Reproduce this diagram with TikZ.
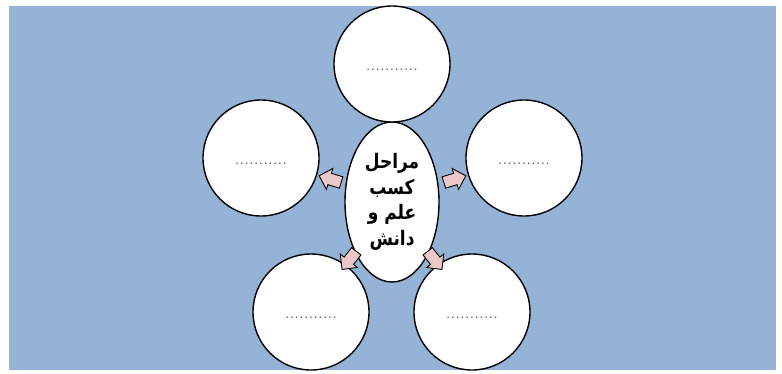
\documentclass[tikz,border=0pt]{standalone}
\usepackage{fontspec}
\usepackage{xcolor}
\usepackage{tikz}
\usetikzlibrary{shapes.geometric,shapes.arrows}
\TeXXeTstate=1
\newfontfamily\farsi[Script=Arabic,FakeStretch=0.85]{DejaVu Sans}
\definecolor{azulfundo}{RGB}{149,179,215}
\definecolor{rosaclaro}{RGB}{236,200,202}
\newcommand{\pontos}{\rule{0pt}{13pt}...........}
\tikzset{
  circulo/.style={circle,draw=black,line width=1.4pt,fill=white,minimum size=116pt,
    inner sep=0pt,font=\fontsize{19}{22}\selectfont,text=black!70},
  centro/.style={ellipse,draw=black,line width=1.4pt,fill=white,minimum width=94pt,
    minimum height=160pt,inner sep=0pt,align=center,
    font=\farsi\bfseries\fontsize{20}{25.5}\selectfont},
  seta/.style={single arrow,draw=black,line width=0.9pt,fill=rosaclaro,
    minimum height=23pt,inner sep=5.5pt,single arrow head extend=5pt}
}
\begin{document}
\begin{tikzpicture}[x=1pt,y=-1pt]
\useasboundingbox (0,0) rectangle (782,373);
\fill[azulfundo] (9,6) rectangle (776,370);
% o centro
\node[centro] (meio) at (392,202)
  {\beginR مراحل\endR\\ \beginR کسب\endR\\ \beginR علم و\endR\\ \beginR دانش\endR};
% os circulos
\node[circulo] (topo) at (392,64) {\pontos};
\node[circulo] (esq) at (261,158) {\pontos};
\node[circulo] (dir) at (524,158) {\pontos};
\node[circulo] (baixoesq) at (311,312) {\pontos};
\node[circulo] (baixodir) at (472,312) {\pontos};
% as setas
\node[seta,rotate=163] (setaesq) at (333,180) {};
\node[seta,rotate=17] (setadir) at (452,180) {};
\node[seta,rotate=232] (setabe) at (351,258) {};
\node[seta,rotate=-52] (setabd) at (433,258) {};
\end{tikzpicture}
\end{document}
